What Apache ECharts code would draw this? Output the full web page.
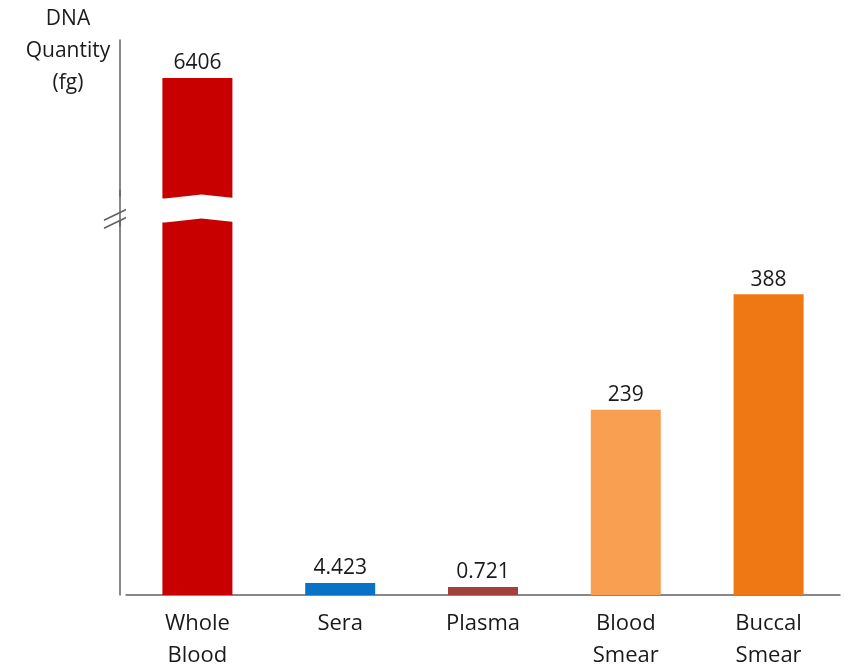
<!DOCTYPE html>
<html>
<head>
<meta charset="utf-8">
<script src="https://cdn.jsdelivr.net/npm/echarts@6.0.0/dist/echarts.min.js"></script>
<style>html,body{margin:0;padding:0;background:#fff;}#c{width:852px;height:664px;}</style>
</head>
<body>
<div id="c"></div>
<script>
const categories = ['Whole\nBlood', 'Sera', 'Plasma', 'Blood\nSmear', 'Buccal\nSmear'];
const values = [6406, 4.423, 0.721, 239, 388];
const colors = ['#C80000', '#0A72C6', '#A33F3C', '#F99F52', '#F07814'];
const yTitle = 'DNA\nQuantity\n(fg)';
const breakStart = 483, breakEnd = 6254, breakGap = 32, yMax = 6455;

const FONT = 'Open Sans';
const chart = echarts.init(document.getElementById('c'));

function seriesFor(idxs, minH) {
  return {
    type: 'bar',
    barWidth: 70,
    barGap: '-100%',
    barMinHeight: minH,
    data: values.map((v, i) => idxs.includes(i) ? { value: v, itemStyle: { color: colors[i] } } : '-'),
    label: {
      show: true, position: 'top', distance: 4,
      fontFamily: FONT, fontSize: 21, color: '#1a1a1a',
      formatter: p => String(values[p.dataIndex])
    },
    silent: true
  };
}

chart.setOption({
  animation: false,
  backgroundColor: '#fff',
  grid: { left: 126, right: 12, top: 40, bottom: 69, containLabel: false, outerBoundsMode: 'none' },
  xAxis: {
    type: 'category',
    data: categories,
    axisLine: { lineStyle: { color: '#606060', width: 1.5 } },
    axisTick: { show: false },
    axisLabel: { fontFamily: FONT, fontSize: 22, color: '#1a1a1a', margin: 13, lineHeight: 32 }
  },
  yAxis: {
    type: 'value',
    min: 0, max: yMax,
    offset: 6,
    axisLine: { show: true, lineStyle: { color: '#606060', width: 1.5 } },
    axisTick: { show: false },
    axisLabel: { show: false },
    splitLine: { show: false },
    breaks: [{ start: breakStart, end: breakEnd, gap: breakGap }],
    breakArea: {
      show: true,
      itemStyle: { color: '#fff', borderWidth: 0, opacity: 1 },
      zigzagAmplitude: 2,
      zigzagMinSpan: 20,
      zigzagMaxSpan: 40,
      expandOnClick: false
    }
  },
  series: [
    seriesFor([0, 3, 4], 0),
    seriesFor([1], 12),
    seriesFor([2], 8)
  ]
});

const yA = chart.convertToPixel({ yAxisIndex: 0 }, breakStart);
const yB = chart.convertToPixel({ yAxisIndex: 0 }, breakEnd);
const yMid = (yA + yB) / 2;
const axisX = 120;
chart.setOption({
  graphic: [
    { type: 'line', shape: { x1: axisX, y1: yB - 6, x2: axisX, y2: yA + 6 }, style: { stroke: '#606060', lineWidth: 1.5 }, z: 50 },
    { type: 'line', shape: { x1: axisX - 16, y1: yMid + 12, x2: axisX + 17, y2: yMid - 4 }, style: { stroke: '#606060', lineWidth: 1.5 }, z: 50 },
    { type: 'line', shape: { x1: axisX - 16, y1: yMid + 20, x2: axisX + 17, y2: yMid + 4 }, style: { stroke: '#606060', lineWidth: 1.5 }, z: 50 },
    { type: 'text', x: 68, y: 3, style: { text: yTitle, fontFamily: FONT, fontSize: 21, lineHeight: 32, fill: '#1a1a1a', textAlign: 'center' } }
  ]
});
</script>
</body>
</html>
